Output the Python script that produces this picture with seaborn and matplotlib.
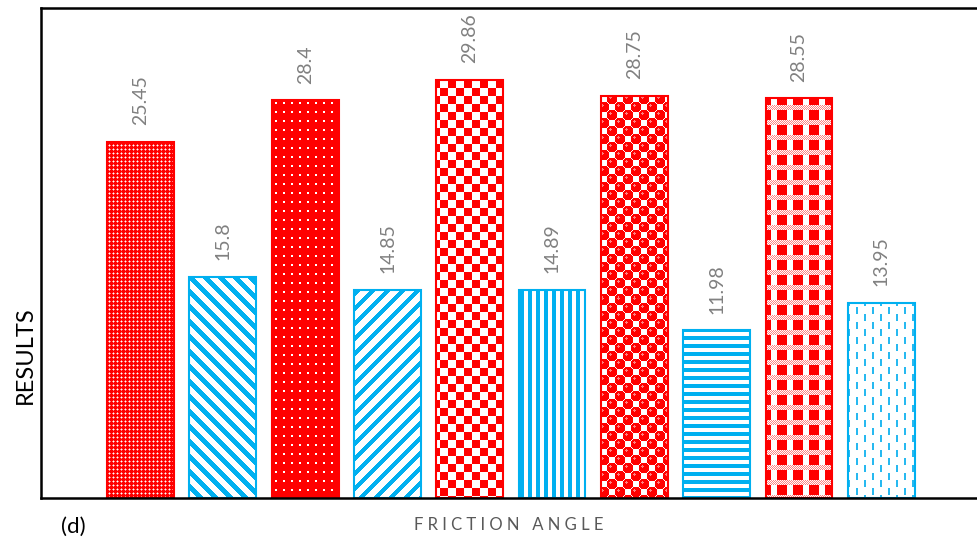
import numpy as np
import matplotlib
matplotlib.use("Agg")
import matplotlib.pyplot as plt
import seaborn as sns
import pandas as pd

# ---- data ----
samples = ["S1", "S2", "S3", "S4", "S5", "S6", "S7", "S8", "S9", "S10"]
results = [25.45, 15.8, 28.4, 14.85, 29.86, 14.89, 28.75, 11.98, 28.55, 13.95]
value_labels = ["25.45", "15.8", "28.4", "14.85", "29.86", "14.89", "28.75", "11.98", "28.55", "13.95"]
bar_colors = ["#FF0000", "#00B0F0", "#FF0000", "#00B0F0", "#FF0000",
              "#00B0F0", "#FF0000", "#00B0F0", "#FF0000", "#00B0F0"]
patterns = ["fine_dots", "back_diag", "dots", "fwd_diag", "checker",
            "vertical", "spheres", "horizontal", "gingham", "dashes"]

W, H = 977, 538
sns.set_style("white")
plt.rcParams['font.family'] = ['Lato', 'DejaVu Sans']

RED = np.array([255, 0, 0]) / 255
WHITE = np.array([255, 255, 255]) / 255
CYAN = np.array([0, 176, 240]) / 255
PINK = np.array([255, 130, 130]) / 255


def make_texture(kind, X, Y):
    img = np.zeros(X.shape + (3,))
    if kind == "fine_dots":
        img[:] = RED
        img[(X % 4 == 1) & (Y % 2 == 0)] = PINK
        img[(Y % 4 == 1) & (X % 2 == 0)] = PINK
        img[(X % 4 == 1) & (Y % 4 == 1)] = WHITE
    elif kind == "dots":
        img[:] = RED
        img[((X % 8) >= 3) & ((X % 8) <= 4) & ((Y % 9) >= 3) & ((Y % 9) <= 4)] = WHITE
    elif kind == "checker":
        img[:] = WHITE
        img[((X // 8) + (Y // 8)) % 2 == 0] = RED
    elif kind == "spheres":
        img[:] = WHITE
        cx, cy = X // 8, Y // 8
        dmin = np.full(X.shape, 1e9)
        for dx, dy in [(0, 0), (1, 0), (-1, 0), (0, 1), (0, -1)]:
            nx, ny = cx + dx, cy + dy
            ok = ((nx + ny) % 2 == 0)
            d = np.hypot(X - (nx * 8 + 3.5), Y - (ny * 8 + 3.5))
            dmin = np.where(ok, np.minimum(dmin, d), dmin)
        img[dmin < 5.5] = RED
        hx = X - (cx * 8 + 2.0)
        hy = Y - (cy * 8 + 2.0)
        img[(((cx + cy) % 2) == 0) & (np.hypot(hx, hy) < 1.2)] = PINK
    elif kind == "gingham":
        img[:] = RED
        band = (Y % 15) < 5
        img[band & ((X + Y) % 2 == 0)] = WHITE
        img[band & ((X + Y) % 2 == 1)] = PINK
        cols = (~band) & ((X % 16) >= 3) & ((X % 16) <= 8)
        img[cols] = WHITE
    elif kind == "back_diag":
        img[:] = WHITE
        img[((X - Y) % 15) < 7] = CYAN
    elif kind == "fwd_diag":
        img[:] = WHITE
        img[((X + Y) % 15) < 6] = CYAN
    elif kind == "vertical":
        img[:] = WHITE
        img[(X % 8) < 4] = CYAN
    elif kind == "horizontal":
        img[:] = WHITE
        img[(Y % 8) < 4] = CYAN
    elif kind == "dashes":
        img[:] = WHITE
        col = X // 8
        yy = (Y + (col % 2) * 7) % 15
        img[((X % 8) < 2) & (yy < 7)] = np.array([40, 185, 240]) / 255
    return img


fig = plt.figure(figsize=(W / 100, H / 100), dpi=100)
ax = fig.add_axes([41 / W, 40 / H, 940 / W, 490 / H])

df = pd.DataFrame({"sample": samples, "result": results})
sns.barplot(data=df, x="sample", y="result", hue="sample", palette=bar_colors,
            fill=False, width=0.81, linewidth=1.5, errorbar=None, legend=False, ax=ax)

XLIM = (-1.2086, 10.209)
YLIM = (0, 35)
ax.set_xlim(*XLIM)
ax.set_ylim(*YLIM)

bars = sorted(ax.patches, key=lambda p: p.get_x())
for i, p in enumerate(bars):
    p.set_zorder(2)
    x0d, w, h = p.get_x(), p.get_width(), p.get_height()
    (dx0, dy0), (dx1, dy1) = ax.transData.transform([(x0d, 0), (x0d + w, h)])
    c0, c1 = int(round(dx0)), int(round(dx1))
    r0, r1 = int(round(H - dy1)), int(round(H - dy0))
    X, Y = np.meshgrid(np.arange(c0, c1), np.arange(r0, r1))
    img = make_texture(patterns[i], X, Y)
    inv = ax.transData.inverted()
    (ex0, ey0), (ex1, ey1) = inv.transform([(c0, H - r1), (c1, H - r0)])
    im = ax.imshow(img, extent=(ex0, ex1, ey0, ey1), origin='upper',
                   interpolation='nearest', aspect='auto', zorder=1)
    im.set_clip_path(p)

ax.set_xlim(*XLIM)
ax.set_ylim(*YLIM)

for i, (v, lab) in enumerate(zip(results, value_labels)):
    ax.annotate(lab, (i, v), xytext=(0, 12), textcoords='offset points',
                rotation=90, ha='center', va='bottom', color='#808080', fontsize=14)

ax.set_xticks([])
ax.set_yticks([])
ax.set_xlabel("")
ax.set_ylabel("")
for s in ax.spines.values():
    s.set_color("black")
    s.set_linewidth(1.8)

fig.text(25 / W, 1 - 355 / H, "RESULTS", rotation=90, ha='center', va='center',
         fontsize=17, color='black')
fig.text(509 / W, 1 - 525 / H, "F R I C T I O N   A N G L E", ha='center', va='center',
         fontsize=12, color='#595959')
fig.text(61 / W, 1 - 537 / H, "(d)", ha='left', va='bottom', fontsize=16, color='black')

fig.savefig("out.png", dpi=100)
